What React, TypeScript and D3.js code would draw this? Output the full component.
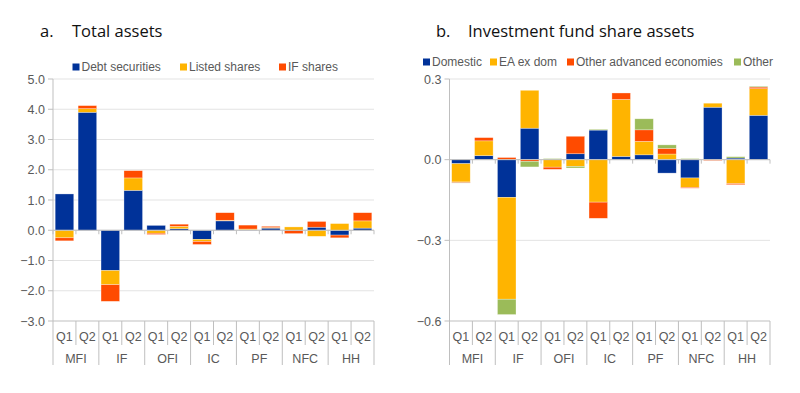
import { useEffect, useRef } from 'react';
import * as d3 from 'd3';

const groups = ['MFI', 'IF', 'OFI', 'IC', 'PF', 'NFC', 'HH'];
const quarters = ['Q1', 'Q2'];

// panel a: total assets
const leftSeries = ['Debt securities', 'Listed shares', 'IF shares'];
const debtSecurities = [1.2, 3.9, -1.33, 1.32, 0.16, 0.05, -0.3, 0.31, 0.01, 0.07, -0.01, 0.1, -0.16, 0.07];
const listedShares = [-0.25, 0.12, -0.47, 0.41, -0.1, 0.08, -0.07, 0.02, 0.03, 0.02, 0.11, -0.2, 0.22, 0.24];
const ifShares = [-0.1, 0.1, -0.55, 0.24, -0.04, 0.07, -0.1, 0.25, 0.13, 0.04, -0.1, 0.19, -0.09, 0.27];
const leftTicks = [-3, -2, -1, 0, 1, 2, 3, 4, 5];

// panel b: investment fund share assets
const rightSeries = ['Domestic', 'EA ex dom', 'Other advanced economies', 'Other'];
const domestic = [-0.015, 0.015, -0.14, 0.117, 0, 0.022, 0.11, 0.012, 0.018, -0.05, -0.068, 0.195, 0.006, 0.165];
const eaExDom = [-0.068, 0.055, -0.379, 0.141, -0.028, -0.025, -0.158, 0.212, 0.05, 0.021, -0.035, 0.015, -0.089, 0.099];
const otherAdvanced = [-0.003, 0.012, 0.008, -0.006, -0.008, 0.065, -0.06, 0.024, 0.043, 0.021, -0.003, -0.003, -0.004, 0.006];
const other = [-0.001, 0, -0.057, -0.021, 0.004, -0.006, 0.003, 0, 0.041, 0.013, 0.004, 0, 0.005, 0.003];
const rightTicks = [-0.6, -0.3, 0, 0.3];

const colors = ['#003299', '#ffb400', '#ff4b00', '#9bbb59'];
const axisGrey = '#bfbfbf';
const gridGrey = '#e3e3e3';
const textGrey = '#595959';

const drawPanel = (svg, opts) => {
  const { x0, x1, yTop, yBottom, domain, ticks, series, values, title, letter, letterX, titleX, legendY, legendXs } = opts;
  const cats = groups.flatMap(g => quarters.map(q => `${g}-${q}`));
  const rows = cats.map((c, i) => {
    const r = { cat: c };
    series.forEach((s, j) => { r[s] = values[j][i]; });
    return r;
  });

  const x = d3.scaleBand().domain(cats).range([x0, x1]).paddingInner(0.19).paddingOuter(0.095);
  const y = d3.scaleLinear().domain(domain).range([yBottom, yTop]);
  const step = x.step();

  const g = svg.append('g');

  // title
  g.append('text').attr('x', letterX).attr('y', 37).text(letter)
    .attr('font-family', 'Open Sans').attr('font-size', 16.5).attr('fill', '#111');
  g.append('text').attr('x', titleX).attr('y', 37).text(title)
    .attr('font-family', 'Open Sans').attr('font-size', 16.5).attr('fill', '#111');

  // legend
  series.forEach((s, j) => {
    const lx = legendXs[j];
    g.append('rect').attr('x', lx).attr('y', legendY - 3.5).attr('width', 7).attr('height', 7).attr('fill', colors[j]);
    g.append('text').attr('x', lx + 9).attr('y', legendY + 4).text(s)
      .attr('font-family', 'Liberation Sans, Arial').attr('font-size', 12).attr('fill', textGrey);
  });

  // gridlines
  g.selectAll('.grid').data(ticks).enter().append('line')
    .attr('x1', x0).attr('x2', x1)
    .attr('y1', d => y(d)).attr('y2', d => y(d))
    .attr('stroke', d => (d === domain[0] ? axisGrey : gridGrey)).attr('stroke-width', 1);

  // y axis
  g.append('line').attr('x1', x0).attr('x2', x0).attr('y1', yTop).attr('y2', yBottom + 44)
    .attr('stroke', axisGrey);
  g.selectAll('.ytick').data(ticks).enter().append('line')
    .attr('x1', x0 - 5).attr('x2', x0).attr('y1', d => y(d)).attr('y2', d => y(d))
    .attr('stroke', axisGrey);
  g.selectAll('.ylab').data(ticks).enter().append('text')
    .attr('x', x0 - 8).attr('y', d => y(d) + 4.5).attr('text-anchor', 'end')
    .text(d => d3.format('.1f')(d))
    .attr('font-family', 'Liberation Sans, Arial').attr('font-size', 12.5).attr('fill', textGrey);

  // bars
  const stack = d3.stack().keys(series).offset(d3.stackOffsetDiverging);
  const layers = stack(rows);
  layers.forEach((layer, j) => {
    g.selectAll(`.bar${j}`).data(layer).enter().append('rect')
      .attr('x', d => x(d.data.cat))
      .attr('width', x.bandwidth())
      .attr('y', d => y(Math.max(d[0], d[1])))
      .attr('height', d => Math.abs(y(d[0]) - y(d[1])))
      .attr('fill', colors[j])
      .attr('stroke', '#ffffff').attr('stroke-opacity', 0.5).attr('stroke-width', 0.6);
  });

  // zero axis with ticks
  g.append('line').attr('x1', x0).attr('x2', x1).attr('y1', y(0)).attr('y2', y(0)).attr('stroke', axisGrey);
  d3.range(cats.length + 1).forEach(i => {
    g.append('line').attr('x1', x0 + i * step).attr('x2', x0 + i * step)
      .attr('y1', y(0)).attr('y2', y(0) + 4).attr('stroke', axisGrey);
  });

  // category separators
  d3.range(1, cats.length + 1).forEach(i => {
    const isGroup = i % 2 === 0;
    g.append('line').attr('x1', x0 + i * step).attr('x2', x0 + i * step)
      .attr('y1', yBottom).attr('y2', yBottom + (isGroup ? 44 : 24)).attr('stroke', axisGrey);
  });

  g.selectAll('.qlab').data(cats).enter().append('text')
    .attr('x', d => x(d) + x.bandwidth() / 2).attr('y', yBottom + 20)
    .attr('text-anchor', 'middle').text(d => d.split('-')[1])
    .attr('font-family', 'Liberation Sans, Arial').attr('font-size', 12.5).attr('fill', textGrey);
  g.selectAll('.glab').data(groups).enter().append('text')
    .attr('x', (d, i) => x0 + (i * 2 + 1) * step).attr('y', yBottom + 42)
    .attr('text-anchor', 'middle').text(d => d)
    .attr('font-family', 'Liberation Sans, Arial').attr('font-size', 12.5).attr('fill', textGrey);
};

const App = () => {
  const chartRef = useRef();

  useEffect(() => {
    document.body.style.margin = '0';
    drawChart();
  }, []);

  const drawChart = () => {
    d3.select(chartRef.current).selectAll('*').remove();

    const svg = d3.select(chartRef.current)
      .append('svg')
      .attr('width', 800)
      .attr('height', 393)
      .style('display', 'block')
      .style('background', '#fff');

    drawPanel(svg, {
      x0: 53, x1: 374, yTop: 79, yBottom: 321,
      domain: [-3, 5], ticks: leftTicks,
      series: leftSeries, values: [debtSecurities, listedShares, ifShares],
      letter: 'a.', title: 'Total assets', letterX: 40, titleX: 72,
      legendXs: [72.5, 180, 279], legendY: 67
    });

    drawPanel(svg, {
      x0: 449.5, x1: 770, yTop: 79, yBottom: 321,
      domain: [-0.6, 0.3], ticks: rightTicks,
      series: rightSeries, values: [domestic, eaExDom, otherAdvanced, other],
      letter: 'b.', title: 'Investment fund share assets', letterX: 436, titleX: 468,
      legendXs: [423, 490, 567, 734], legendY: 62
    });
  };

  return <div ref={chartRef}></div>;
};

export default App;
